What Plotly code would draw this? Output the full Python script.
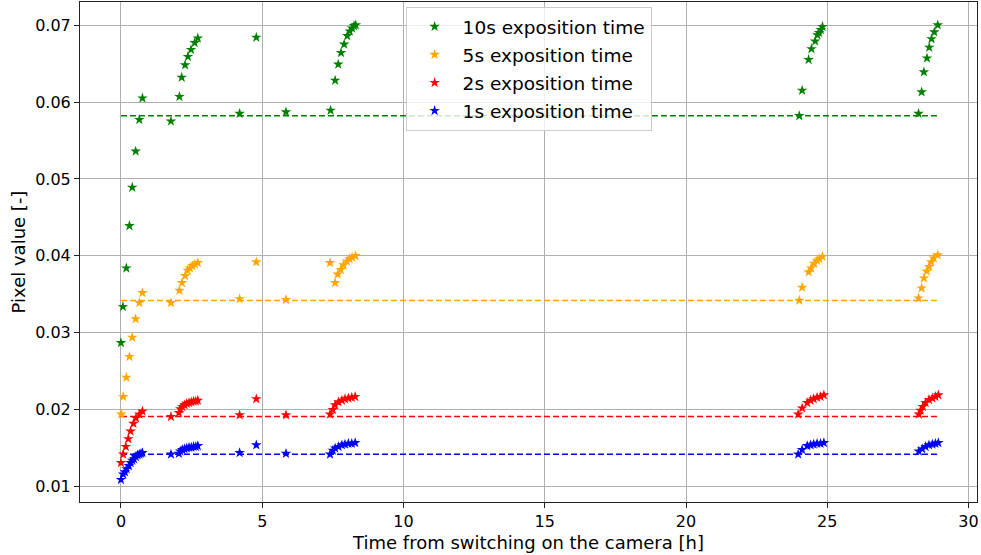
import plotly.graph_objects as go

# Pixel value vs. time since camera power-on, for four exposure times
t_10s = [0.0, 0.07, 0.19, 0.30, 0.40, 0.52, 0.65, 0.76, 1.77, 2.07, 2.15, 2.27, 2.37, 2.48, 2.61, 2.72,
         4.20, 4.79, 5.84, 7.42, 7.58, 7.69, 7.79, 7.90, 8.01, 8.10, 8.18, 8.25, 8.31,
         24.01, 24.11, 24.34, 24.44, 24.57, 24.65, 24.71, 24.77, 24.83,
         28.23, 28.34, 28.42, 28.53, 28.61, 28.69, 28.79, 28.91]
v_10s = [0.0287, 0.0334, 0.0384, 0.0439, 0.0489, 0.0536, 0.0577, 0.0605, 0.0575, 0.0607, 0.0632, 0.0648, 0.0659, 0.0668, 0.0677, 0.0683,
         0.0585, 0.0684, 0.0587, 0.0589, 0.0628, 0.0649, 0.0664, 0.0675, 0.0686, 0.0692, 0.0696, 0.0699, 0.0700,
         0.0582, 0.0615, 0.0655, 0.0669, 0.0679, 0.0687, 0.0690, 0.0694, 0.0698,
         0.0585, 0.0613, 0.0639, 0.0657, 0.0671, 0.0682, 0.0691, 0.0700]

t_5s = [0.01, 0.08, 0.19, 0.30, 0.40, 0.52, 0.65, 0.76, 1.77, 2.07, 2.16, 2.27, 2.36, 2.44, 2.53, 2.62, 2.72,
        4.20, 4.79, 5.84, 7.40, 7.58, 7.67, 7.78, 7.88, 8.00, 8.09, 8.18, 8.30,
        24.01, 24.11, 24.34, 24.43, 24.54, 24.64, 24.72, 24.83,
        28.23, 28.34, 28.42, 28.52, 28.60, 28.68, 28.77, 28.91]
v_5s = [0.0194, 0.0217, 0.0242, 0.0269, 0.0294, 0.0318, 0.0339, 0.0352, 0.0339, 0.0355, 0.0365, 0.0374, 0.0381, 0.0384, 0.0387, 0.0389, 0.0391,
        0.0344, 0.0392, 0.0343, 0.0391, 0.0365, 0.0376, 0.0382, 0.0388, 0.0393, 0.0396, 0.0398, 0.0400,
        0.0342, 0.0359, 0.0379, 0.0384, 0.0390, 0.0394, 0.0396, 0.0399,
        0.0345, 0.0358, 0.0371, 0.0380, 0.0386, 0.0392, 0.0397, 0.0401]

t_2s = [0.0, 0.08, 0.17, 0.26, 0.34, 0.44, 0.53, 0.65, 0.76, 1.77, 2.05, 2.10, 2.17, 2.25, 2.33, 2.41, 2.49, 2.57, 2.65, 2.72,
        4.20, 4.79, 5.84, 7.40, 7.50, 7.58, 7.70, 7.82, 7.93, 8.05, 8.17, 8.29,
        23.97, 24.11, 24.29, 24.41, 24.52, 24.64, 24.76, 24.88,
        28.24, 28.30, 28.38, 28.48, 28.60, 28.72, 28.83, 28.93]
v_2s = [0.0131, 0.0142, 0.0152, 0.0162, 0.0172, 0.0182, 0.0189, 0.0194, 0.0198, 0.0191, 0.0196, 0.0201, 0.0204, 0.0206, 0.0208, 0.0209, 0.0210, 0.0211, 0.0211, 0.0212,
        0.0193, 0.0214, 0.0193, 0.0194, 0.0200, 0.0206, 0.0210, 0.0212, 0.0214, 0.0215, 0.0216, 0.0217,
        0.0194, 0.0202, 0.0209, 0.0212, 0.0214, 0.0216, 0.0217, 0.0219,
        0.0194, 0.0199, 0.0204, 0.0209, 0.0213, 0.0215, 0.0217, 0.0219]

t_1s = [0.0, 0.08, 0.14, 0.20, 0.28, 0.34, 0.40, 0.46, 0.53, 0.59, 0.65, 0.71, 0.76,
        1.77, 2.05, 2.10, 2.17, 2.25, 2.33, 2.41, 2.49, 2.57, 2.65, 2.72,
        4.20, 4.79, 5.84, 7.40, 7.50, 7.58, 7.70, 7.82, 7.93, 8.05, 8.17, 8.29,
        23.97, 24.11, 24.29, 24.41, 24.52, 24.64, 24.76, 24.88,
        28.24, 28.36, 28.48, 28.60, 28.72, 28.83, 28.93]
v_1s = [0.0109, 0.0116, 0.0119, 0.0123, 0.0127, 0.0131, 0.0134, 0.0136, 0.0139, 0.0141, 0.0142, 0.0143, 0.0144,
        0.0142, 0.0143, 0.0146, 0.0148, 0.0149, 0.0150, 0.0151, 0.0151, 0.0152, 0.0152, 0.0153,
        0.0144, 0.0154, 0.0143, 0.0142, 0.0147, 0.0150, 0.0152, 0.0154, 0.0155, 0.0156, 0.0156, 0.0157,
        0.0142, 0.0148, 0.0153, 0.0154, 0.0155, 0.0156, 0.0156, 0.0157,
        0.0146, 0.0149, 0.0152, 0.0154, 0.0155, 0.0156, 0.0157]

# Stable reference level for each exposure and the span it is drawn over
labels = ["10s exposition time", "5s exposition time", "2s exposition time", "1s exposition time"]
colors = ["green", "orange", "red", "blue"]
baselines = [0.0582, 0.0342, 0.0191, 0.0142]
baseline_span = [0.0, 28.9]

times = [t_10s, t_5s, t_2s, t_1s]
values = [v_10s, v_5s, v_2s, v_1s]

fig = go.Figure()

for lab, col, base in zip(labels, colors, baselines):
    fig.add_trace(go.Scatter(
        x=baseline_span, y=[base, base], mode="lines",
        line=dict(color=col, width=1.5, dash="6px,3px"),
        showlegend=False, hoverinfo="skip",
    ))

for i, (lab, col, t, v) in enumerate(zip(labels, colors, times, values)):
    fig.add_trace(go.Scatter(
        x=t, y=v, mode="markers", name=lab, legendgroup=f"g{i}",
        marker=dict(symbol="star", size=8, color=col, line=dict(width=0)),
    ))

axis_common = dict(
    showgrid=True, gridcolor="#b0b0b0", gridwidth=1,
    showline=True, linecolor="#222", linewidth=1, mirror=True,
    ticks="outside", ticklen=5, tickcolor="#222",
    zeroline=False,
    tickfont=dict(family="DejaVu Sans", size=16, color="black"),
    title_font=dict(family="DejaVu Sans", size=18, color="black"),
)

fig.update_xaxes(axis_common, range=[-1.45, 30.3], dtick=5, tick0=0,
                 title_text="Time from switching on the camera [h]", title_standoff=6)
fig.update_yaxes(axis_common, range=[0.0080, 0.0730], dtick=0.01, tick0=0, tickformat=".2f",
                 title_text="Pixel value [-]", title_standoff=4)

fig.update_layout(
    width=981, height=555,
    margin=dict(l=80, r=4, t=2, b=53),
    plot_bgcolor="white", paper_bgcolor="white",
    font=dict(family="DejaVu Sans", color="black"),
    legend=dict(
        x=0.363, y=0.99, xanchor="left", yanchor="top",
        bgcolor="rgba(255,255,255,0.8)", bordercolor="#cccccc", borderwidth=1,
        font=dict(family="DejaVu Sans", size=18.5, color="black"),
        tracegroupgap=1, itemwidth=46,
    ),
)

fig.write_html("out.html")
